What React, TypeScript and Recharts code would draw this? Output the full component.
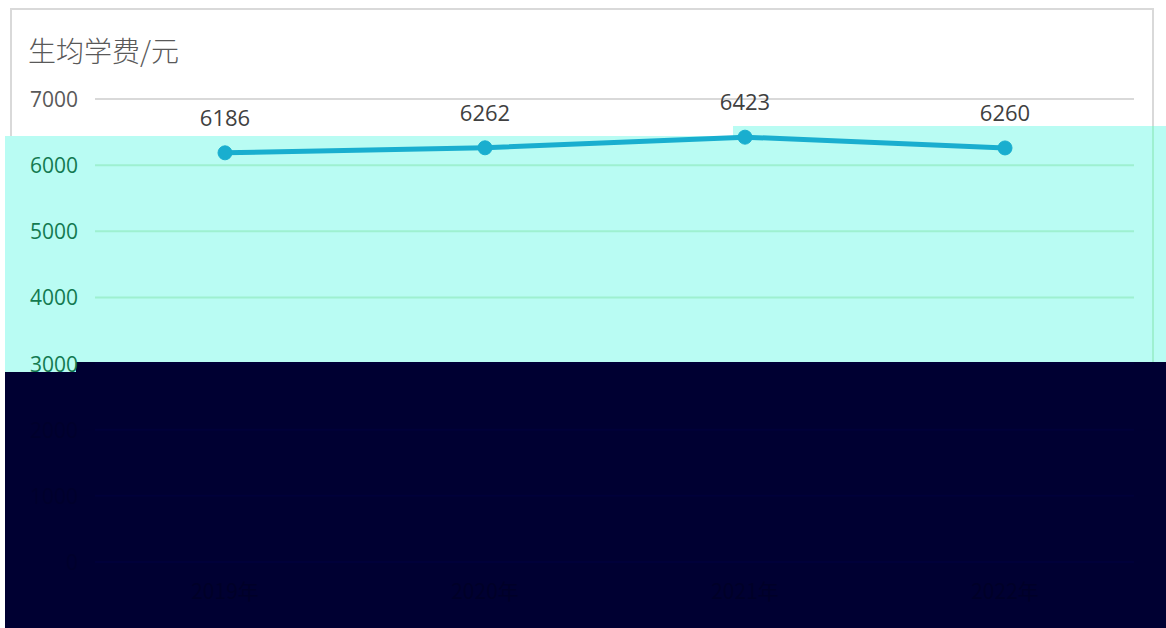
import React from "react";
import { LineChart, Line, XAxis, YAxis, CartesianGrid, LabelList } from "recharts";

const years = ["2019年", "2020年", "2021年", "2022年"];
const fees = [6186, 6262, 6423, 6260];
const yTicks = [0, 1000, 2000, 3000, 4000, 5000, 6000, 7000];
const title = "生均学费/元";

const data = years.map((y, i) => ({ year: y, fee: fees[i] }));

const FONT = "'Open Sans', 'Noto Sans', sans-serif";

function textColor(y: number) {
  if (y < 130) return "#595959";
  if (y < 372) return "#137A50";
  return "#00002C";
}
function gridColor(y: number) {
  if (y < 130) return "#D9D9D9";
  if (y < 362) return "#9EF0D0";
  return "#00003A";
}

const YTick = (props: any) => {
  const { x, y, payload } = props;
  return (
    <text x={x} y={y} textAnchor="end" dominantBaseline="central" fontSize={21} fontFamily={FONT} fill={textColor(y)}>
      {payload.value}
    </text>
  );
};

const XTick = (props: any) => {
  const { x, y, payload } = props;
  return (
    <text x={x} y={y} textAnchor="middle" dominantBaseline="central" fontSize={21} fontFamily="'Noto Sans CJK SC', sans-serif" fill="#000028">
      {payload.value}
    </text>
  );
};

const GridLine = (props: any) => {
  const { x1, x2, y1, y2 } = props;
  return <line x1={x1} x2={x2} y1={y1} y2={y2} stroke={gridColor(y1)} strokeWidth={2} />;
};

export default function App() {
  return (
    <div style={{ position: "absolute", left: 0, top: 0, width: 1166, height: 628, background: "#FFFFFF", overflow: "hidden" }}>
      {/* frame */}
      <div style={{ position: "absolute", left: 10, top: 8, width: 1144, height: 640, border: "2px solid #D9D9D9", boxSizing: "border-box" }} />
      {/* colour bands */}
      <div style={{ position: "absolute", left: 5, top: 136, width: 730, height: 236, background: "#B9FCF3" }} />
      <div style={{ position: "absolute", left: 733, top: 126, width: 433, height: 246, background: "#B9FCF3" }} />
      <div style={{ position: "absolute", left: 1152, top: 126, width: 2, height: 236, background: "#9EF0D0" }} />
      <div style={{ position: "absolute", left: 76, top: 362, width: 1090, height: 266, background: "#000032" }} />
      <div style={{ position: "absolute", left: 5, top: 372, width: 72, height: 256, background: "#000032" }} />
      {/* title */}
      <div style={{ position: "absolute", left: 28, top: 31, fontSize: 28, color: "#595959", fontFamily: "'Noto Sans CJK SC', sans-serif", lineHeight: "38px", fontWeight: 300 }}>
        {title}
      </div>
      <div style={{ position: "absolute", left: 0, top: 0 }}>
        <LineChart width={1166} height={628} data={data} margin={{ top: 99, right: 32, bottom: 0, left: 0 }}>
          <CartesianGrid vertical={false} horizontal={(p: any) => <GridLine key={p.key ?? p.index} {...p} />} />
          <XAxis
            dataKey="year"
            axisLine={false}
            tickLine={false}
            tickSize={0}
            tickMargin={28}
            height={66}
            padding={{ left: 130, right: 129 }}
            tick={<XTick />}
          />
          <YAxis
            domain={[0, 7000]}
            ticks={yTicks}
            axisLine={false}
            tickLine={false}
            tickSize={0}
            tickMargin={17}
            width={95}
            tick={<YTick />}
          />
          <Line
            type="linear"
            dataKey="fee"
            stroke="#19AECF"
            strokeWidth={5}
            dot={{ r: 7, fill: "#19AECF", stroke: "#19AECF", strokeWidth: 1 }}
            isAnimationActive={false}
          >
            <LabelList dataKey="fee" position="top" offset={27} fontSize={22} fontFamily={FONT} fill="#404040" />
          </Line>
        </LineChart>
      </div>
    </div>
  );
}
